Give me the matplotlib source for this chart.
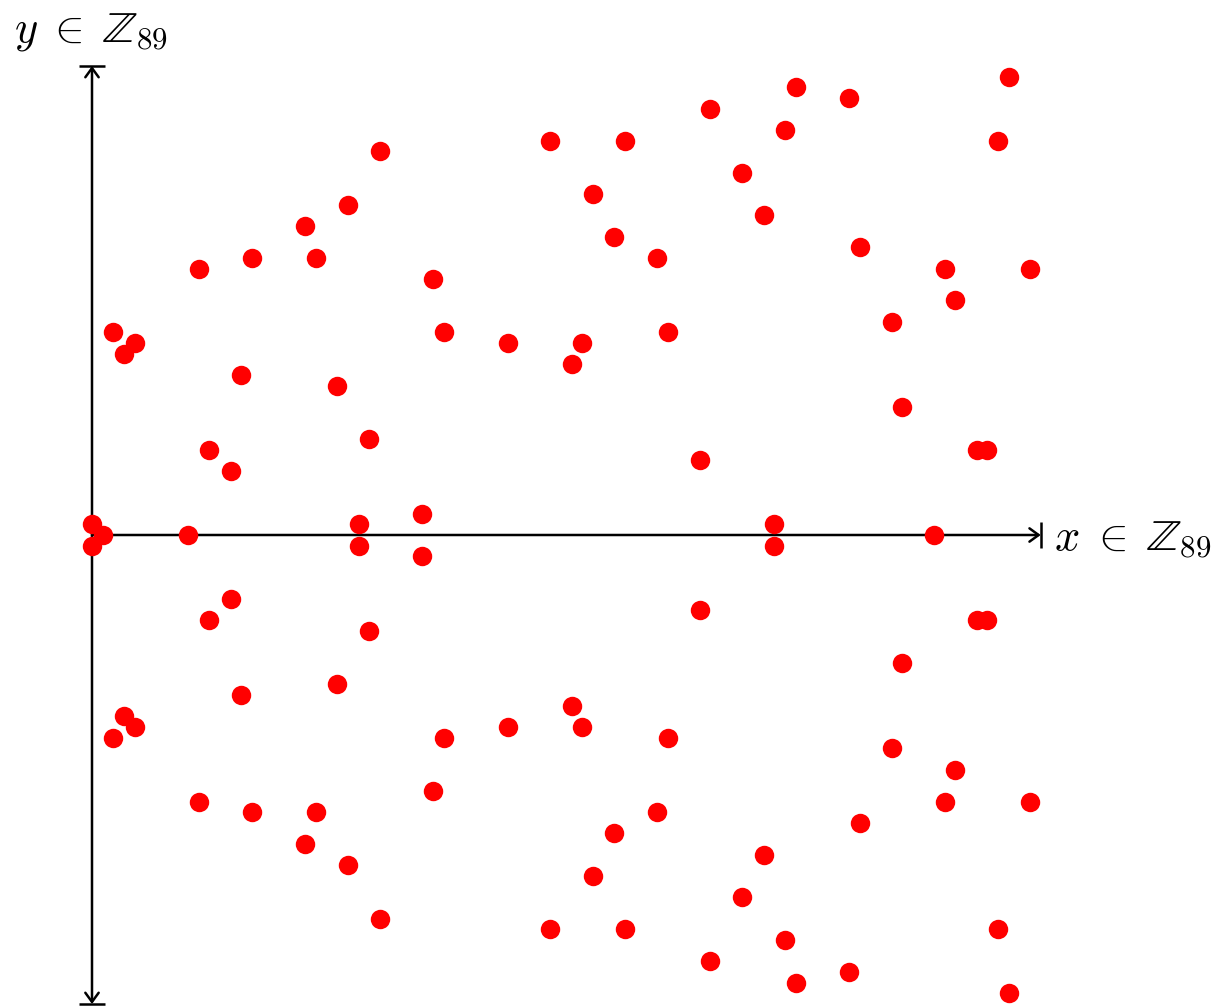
import matplotlib
matplotlib.use("Agg")
import matplotlib.pyplot as plt

# Points (x, y) of the curve over Z_89, y shown as centred representatives
xs = [0, 0, 1, 2, 2, 3, 3, 4, 4, 9, 10, 10, 11, 11, 13, 13, 14, 14, 15, 15,
      20, 20, 21, 21, 23, 23, 24, 24, 25, 25, 26, 26, 27, 27, 31, 31, 32, 32,
      33, 33, 39, 39, 43, 43, 45, 45, 46, 46, 47, 47, 49, 49, 50, 50, 53, 53,
      54, 54, 57, 57, 58, 58, 61, 61, 63, 63, 64, 64, 65, 65, 66, 66, 71, 71,
      72, 72, 75, 75, 76, 76, 79, 80, 80, 81, 81, 83, 83, 84, 84, 85, 85, 86,
      86, 88, 88]
ys = [1, -1, 0, 19, -19, 17, -17, 18, -18, 0, 25, -25, 8, -8, 6, -6, 15, -15,
      26, -26, 29, -29, 26, -26, 14, -14, 31, -31, 1, -1, 9, -9, 36, -36, 2, -2,
      24, -24, 19, -19, 18, -18, 37, -37, 16, -16, 18, -18, 32, -32, 28, -28,
      37, -37, 26, -26, 19, -19, 7, -7, 40, -40, 34, -34, 30, -30, 1, -1,
      38, -38, 42, -42, 41, -41, 27, -27, 20, -20, 12, -12, 0, 25, -25, 22, -22,
      8, -8, 8, -8, 37, -37, 43, -43, 25, -25]

W, H, DPI = 1217, 1007, 100
scale = 10.66          # pixels per unit
ox, oy = 92, 535       # pixel position of the origin

plt.rcParams["mathtext.fontset"] = "cm"

fig = plt.figure(figsize=(W / DPI, H / DPI), dpi=DPI)
ax = fig.add_axes([0, 0, 1, 1])
ax.set_xlim(-ox / scale, (W - ox) / scale)
ax.set_ylim(-(H - oy) / scale, oy / scale)
ax.axis("off")

lw = 1.8
arrow = dict(arrowstyle="->,head_length=0.55,head_width=0.4", lw=lw,
             color="black", shrinkA=0, shrinkB=0, mutation_scale=12)

# x axis: from origin to 89 with a bar at the end
ax.annotate("", xy=(89, 0), xytext=(0, 0), arrowprops=arrow)
bar = 1.22
ax.plot([89, 89], [-bar, bar], color="black", lw=lw, solid_capstyle="butt")

# y axis: arrows to both ends with bars
ax.annotate("", xy=(0, 44), xytext=(0, 0), arrowprops=arrow)
ax.annotate("", xy=(0, -44), xytext=(0, 0), arrowprops=arrow)
ax.plot([-bar, bar], [44, 44], color="black", lw=lw, solid_capstyle="butt")
ax.plot([-bar, bar], [-44, -44], color="black", lw=lw, solid_capstyle="butt")

# points
ax.plot(xs, ys, "o", color="#ff0000", markersize=14, markeredgewidth=0,
        zorder=5)

ax.text(90.2, -1.4, r"$x\;\in\;\mathbb{Z}_{89}$", fontsize=32,
        ha="left", va="baseline")
ax.text(-0.1, 46.3, r"$y\;\in\;\mathbb{Z}_{89}$", fontsize=32,
        ha="center", va="baseline")

fig.savefig("out.png", dpi=DPI)
